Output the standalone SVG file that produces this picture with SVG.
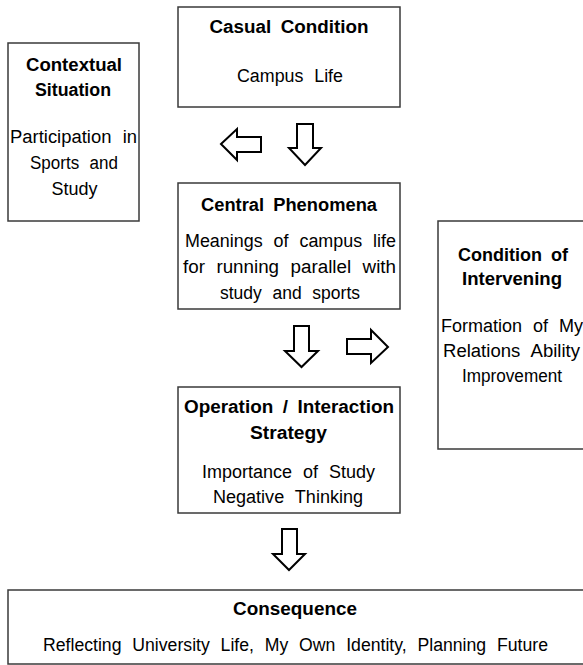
<svg xmlns="http://www.w3.org/2000/svg" width="583" height="665" viewBox="0 0 583 665">
<style>
.box{fill:#fff;stroke:#3a3a3a;stroke-width:1.5}
.arrow{fill:#fff;stroke:#000;stroke-width:2;stroke-linejoin:miter}
text{font-family:"Liberation Sans",Arial,sans-serif;fill:#000;text-anchor:middle}
.t{font-size:18px;font-weight:bold;word-spacing:4px}
.b{font-size:18px;word-spacing:6px}
</style>
<rect width="583" height="665" fill="#fff"/>
<g id="casual">
<rect class="box" x="178" y="7" width="222" height="100"/>
<text class="t" x="289" y="33" textLength="159" lengthAdjust="spacingAndGlyphs">Casual Condition</text>
<text class="b" x="290" y="82" textLength="106" lengthAdjust="spacingAndGlyphs">Campus Life</text>
</g>
<g id="contextual">
<rect class="box" x="8" y="43" width="131" height="178"/>
<text class="t" x="74" y="71" textLength="96" lengthAdjust="spacingAndGlyphs">Contextual</text>
<text class="t" x="73" y="96" textLength="76" lengthAdjust="spacingAndGlyphs">Situation</text>
<text class="b" x="73.5" y="143" textLength="127" lengthAdjust="spacingAndGlyphs">Participation in</text>
<text class="b" x="74" y="169" textLength="88" lengthAdjust="spacingAndGlyphs">Sports and</text>
<text class="b" x="74.5" y="195" textLength="46" lengthAdjust="spacingAndGlyphs">Study</text>
</g>
<g id="central">
<rect class="box" x="178" y="183" width="222" height="126"/>
<text class="t" x="289" y="211" textLength="176" lengthAdjust="spacingAndGlyphs">Central Phenomena</text>
<text class="b" x="290.5" y="247" textLength="211" lengthAdjust="spacingAndGlyphs">Meanings of campus life</text>
<text class="b" x="289.5" y="273" textLength="213" lengthAdjust="spacingAndGlyphs">for running parallel with</text>
<text class="b" x="290" y="299" textLength="140" lengthAdjust="spacingAndGlyphs">study and sports</text>
</g>
<g id="intervening">
<rect class="box" x="438" y="221" width="152" height="228"/>
<text class="t" x="513" y="261" textLength="110" lengthAdjust="spacingAndGlyphs">Condition of</text>
<text class="t" x="512" y="285" textLength="100" lengthAdjust="spacingAndGlyphs">Intervening</text>
<text class="b" x="512" y="332" textLength="142" lengthAdjust="spacingAndGlyphs">Formation of My</text>
<text class="b" x="511.5" y="357" textLength="137" lengthAdjust="spacingAndGlyphs">Relations Ability</text>
<text class="b" x="512" y="382" textLength="100" lengthAdjust="spacingAndGlyphs">Improvement</text>
</g>
<g id="strategy">
<rect class="box" x="178" y="387" width="222" height="126"/>
<text class="t" x="289" y="413" textLength="210" lengthAdjust="spacingAndGlyphs">Operation / Interaction</text>
<text class="t" x="288.5" y="439" textLength="77" lengthAdjust="spacingAndGlyphs">Strategy</text>
<text class="b" x="288.5" y="478" textLength="173" lengthAdjust="spacingAndGlyphs">Importance of Study</text>
<text class="b" x="288" y="503" textLength="150" lengthAdjust="spacingAndGlyphs">Negative Thinking</text>
</g>
<g id="consequence">
<rect class="box" x="8" y="590" width="580" height="74"/>
<text class="t" x="295" y="615" textLength="124" lengthAdjust="spacingAndGlyphs">Consequence</text>
<text class="b" x="295.5" y="651" textLength="505" lengthAdjust="spacingAndGlyphs">Reflecting University Life, My Own Identity, Planning Future</text>
</g>
<g id="connectors">
<polygon class="arrow" points="221,144 237,129 237,137 261,137 261,152 237,152 237,160"/>
<polygon class="arrow" points="297,124 313,124 313,148 321,148 305,165 289,148 297,148"/>
<polygon class="arrow" points="294,326 309,326 309,351 318,351 301.5,367 285,351 294,351"/>
<polygon class="arrow" points="347,339 371,339 371,330 388,347 371,363 371,354 347,354"/>
<polygon class="arrow" points="282,529 297,529 297,554 305,554 289,570 273,554 282,554"/>
</g>
</svg>
